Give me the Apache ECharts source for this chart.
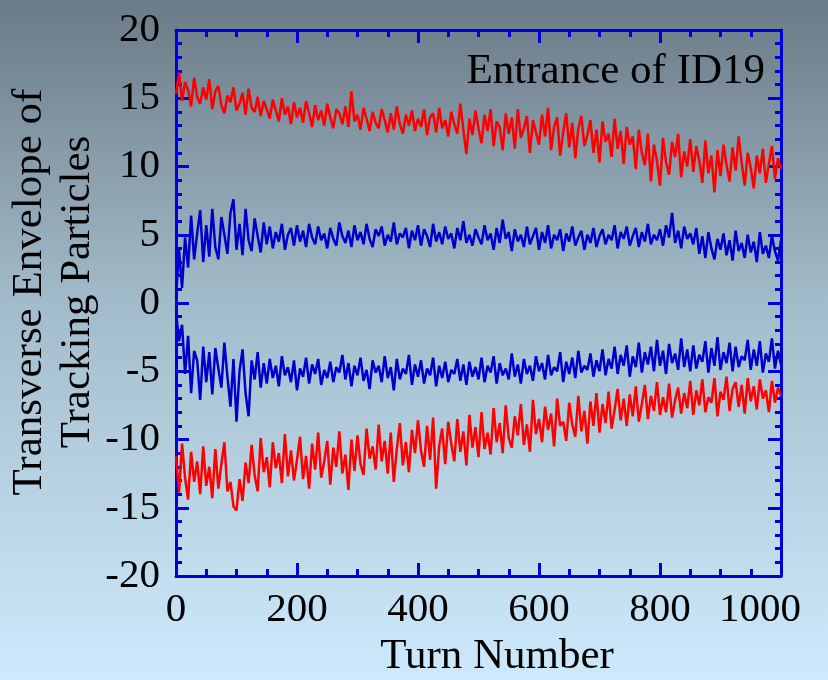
<!DOCTYPE html>
<html>
<head>
<meta charset="utf-8">
<script src="https://cdn.jsdelivr.net/npm/echarts@6/dist/echarts.min.js"></script>
<style>
html,body{margin:0;padding:0;}
#chart{width:828px;height:680px;}
</style>
</head>
<body>
<div id="chart"></div>
<script>
// Turn numbers sampled every 5 turns (0..1000)
const turns = Array.from({length: 201}, (_, i) => i * 5);

// Upper red envelope
const redUpper = [
15.3,16.9,14.8,16.2,15.6,14.4,16.5,15.1,14.6,15.8,14.9,
16.4,14.2,15.5,15.9,14.5,13.9,15.2,14.7,15.8,14.1,
14.6,15.4,13.8,15.7,14.3,14.0,15.1,13.7,14.8,14.2,
13.5,14.9,14.1,13.3,15.0,13.8,14.4,13.1,14.7,13.6,
14.3,13.2,14.8,13.9,12.9,14.5,13.4,14.1,13.0,14.6,
13.6,12.8,14.2,13.9,13.1,14.4,12.9,15.5,13.3,13.8,
12.7,14.3,13.5,12.6,14.0,13.2,12.8,14.2,13.4,12.5,
13.9,12.7,14.4,13.1,12.4,13.8,13.0,14.1,12.6,13.5,
12.9,14.2,12.3,13.6,13.9,12.5,14.3,12.8,13.4,12.2,
14.0,13.1,12.4,14.6,12.7,10.9,13.5,12.3,14.1,12.8,
11.7,13.8,12.6,14.2,11.5,13.3,12.9,11.2,13.9,12.4,
13.6,11.3,14.2,12.1,12.8,13.7,11.0,13.4,12.5,11.6,
13.8,12.2,14.3,11.2,12.9,13.6,10.8,12.5,13.9,11.4,
13.2,10.6,12.8,13.7,11.5,12.3,13.4,11.0,12.7,10.3,
13.3,11.8,12.4,10.7,13.5,11.3,12.6,10.2,12.9,11.6,
12.2,9.8,12.7,11.0,10.1,12.4,8.9,11.6,10.4,8.6,
12.1,10.3,9.4,11.8,10.7,12.4,9.2,11.1,10.0,12.0,
9.6,11.5,10.4,8.8,11.9,9.5,10.8,8.1,11.2,9.3,
11.6,10.1,8.9,11.4,9.7,12.2,10.3,8.6,11.0,9.9,
8.4,10.8,9.5,11.3,8.8,10.2,11.5,9.1,10.6,9.8
];

// Upper blue envelope
const blueUpper = [
0.4,3.9,1.1,4.8,2.6,6.4,3.2,5.1,6.8,3.0,5.7,
3.4,6.9,4.1,3.2,6.3,5.0,3.6,6.6,7.6,3.9,
5.8,3.5,6.9,4.6,3.8,6.2,4.9,3.7,5.9,4.3,
5.6,4.0,5.2,4.5,5.8,3.9,5.0,5.5,4.2,5.7,
4.5,5.3,4.1,5.8,4.8,4.3,5.6,4.6,5.1,4.0,
5.5,4.7,4.2,5.9,4.9,4.4,5.3,4.1,5.7,4.6,
5.2,4.3,5.8,4.7,4.1,5.4,4.9,5.6,4.2,5.0,
4.5,5.9,4.3,5.1,4.8,5.5,4.0,5.3,4.6,5.7,
4.2,5.4,4.9,4.1,5.8,4.5,5.2,4.3,5.6,4.7,
5.1,4.0,5.5,4.6,6.0,4.4,5.0,4.2,5.4,4.8,
4.3,5.7,4.6,5.1,3.9,5.5,4.4,6.1,4.7,5.2,
3.8,5.4,4.5,5.0,4.1,5.6,4.3,4.9,5.5,3.9,
5.2,4.4,5.7,4.0,5.0,4.6,5.4,3.8,5.1,4.5,
5.6,4.2,4.8,5.3,3.9,5.0,4.4,5.5,4.1,4.9,
5.4,4.3,5.0,4.6,5.7,4.0,5.2,4.7,5.6,4.2,
4.9,5.5,4.1,5.2,4.5,5.8,4.3,5.0,4.6,5.4,
4.2,5.7,4.8,6.6,4.4,5.3,4.0,5.6,4.7,5.1,
4.3,5.5,3.6,4.9,3.3,5.2,4.0,3.2,4.7,3.9,
5.1,3.5,4.6,3.1,5.3,3.8,4.4,3.3,5.0,3.7,
4.5,3.0,5.2,3.6,4.2,3.3,4.9,3.8,3.1,4.6
];

// Lower blue envelope
const blueLower = [
-0.6,-2.8,-1.6,-5.2,-2.4,-6.6,-3.5,-4.2,-7.1,-3.2,-5.8,
-3.6,-6.7,-3.3,-4.8,-6.2,-2.9,-5.4,-7.6,-4.1,-8.7,
-5.0,-3.4,-6.6,-8.3,-4.2,-5.6,-3.6,-6.2,-4.4,-5.9,
-4.1,-5.5,-4.6,-6.1,-3.9,-5.3,-4.7,-5.8,-4.2,-6.4,
-4.8,-5.4,-4.0,-5.9,-4.5,-5.2,-4.1,-6.0,-4.9,-5.5,
-4.3,-5.8,-4.7,-5.1,-3.8,-5.6,-4.4,-6.1,-4.6,-5.3,
-4.0,-5.7,-4.9,-6.3,-4.2,-5.1,-4.6,-5.8,-3.9,-5.5,
-4.7,-6.4,-4.1,-5.6,-4.8,-5.2,-3.8,-6.0,-4.5,-5.4,
-4.2,-5.9,-4.8,-5.3,-4.0,-6.1,-4.6,-5.5,-4.3,-5.8,
-4.9,-5.2,-4.1,-5.7,-4.5,-6.0,-4.3,-5.4,-4.7,-5.6,
-4.0,-5.8,-4.6,-5.1,-3.9,-5.9,-4.4,-5.3,-4.8,-5.6,
-3.7,-5.4,-4.5,-5.9,-4.1,-5.2,-4.6,-5.7,-3.9,-5.0,
-4.4,-5.6,-3.8,-5.3,-4.7,-5.0,-3.6,-5.8,-4.3,-5.2,
-4.0,-5.5,-3.5,-5.1,-4.6,-4.9,-3.7,-5.4,-4.2,-5.0,
-3.4,-5.3,-4.1,-4.8,-3.2,-5.2,-3.8,-4.6,-3.1,-5.4,
-3.9,-4.7,-2.9,-5.1,-3.6,-4.5,-3.2,-5.0,-2.7,-4.6,
-3.5,-5.2,-3.0,-4.4,-3.7,-4.9,-2.6,-4.7,-3.4,-5.0,
-3.1,-4.8,-3.8,-4.3,-2.8,-5.1,-3.3,-4.6,-2.5,-4.9,
-3.6,-4.4,-2.9,-5.0,-3.2,-4.7,-3.9,-4.2,-2.7,-4.9,
-3.4,-4.6,-2.8,-5.1,-3.7,-4.3,-2.6,-4.8,-3.5,-4.5
];

// Lower red envelope
const redLower = [
-11.2,-13.9,-10.3,-12.8,-14.4,-10.9,-13.1,-11.6,-14.0,-10.5,-13.4,
-12.0,-14.3,-10.7,-13.6,-11.8,-10.2,-13.8,-13.1,-14.9,-15.2,
-12.9,-14.5,-11.7,-13.2,-10.4,-12.6,-13.8,-9.9,-12.4,-11.3,
-13.5,-10.2,-12.1,-11.0,-13.2,-9.6,-12.7,-10.8,-13.0,-11.5,
-9.8,-12.9,-11.2,-13.6,-10.3,-12.2,-9.5,-12.8,-11.6,-10.1,
-13.3,-10.6,-12.0,-9.4,-12.5,-11.1,-13.7,-10.0,-12.3,-9.7,
-11.8,-12.6,-9.2,-11.4,-10.5,-12.2,-8.9,-11.6,-10.1,-12.5,
-9.5,-13.1,-10.7,-8.8,-11.9,-10.2,-12.4,-9.3,-11.0,-8.6,
-10.8,-12.0,-9.0,-11.5,-8.4,-13.6,-10.5,-9.2,-11.8,-8.7,
-10.3,-11.6,-8.5,-10.9,-9.4,-11.9,-8.2,-10.6,-9.1,-11.3,
-8.0,-10.7,-9.5,-11.1,-7.7,-10.2,-8.8,-11.0,-7.5,-9.9,
-10.6,-8.3,-9.7,-7.4,-10.4,-8.9,-10.9,-7.1,-9.6,-8.5,
-10.2,-7.6,-9.3,-8.1,-10.5,-7.0,-9.0,-8.7,-10.1,-7.3,
-8.9,-9.8,-6.8,-9.4,-7.9,-10.3,-7.2,-9.0,-6.6,-9.5,
-7.4,-8.8,-6.5,-9.2,-7.8,-6.3,-8.6,-7.0,-9.0,-6.7,
-8.3,-6.1,-8.7,-7.4,-6.0,-8.5,-6.8,-7.9,-5.8,-8.2,
-6.9,-8.0,-5.9,-8.4,-7.1,-6.2,-8.1,-6.6,-7.7,-5.7,
-8.2,-6.4,-7.5,-5.6,-8.0,-6.9,-7.3,-5.5,-8.3,-6.5,
-7.1,-5.4,-7.9,-6.3,-5.8,-7.6,-6.0,-8.1,-5.5,-7.2,
-6.1,-7.8,-5.6,-7.0,-6.4,-8.0,-5.7,-7.3,-6.2,-6.8
];

const xTicks = [0, 200, 400, 600, 800, 1000];
const yTicks = [-20, -15, -10, -5, 0, 5, 10, 15, 20];

const AX = '#0000d8';
const FONT = '"Liberation Serif", "Times New Roman", serif';
const pair = arr => turns.map((t, i) => [t, arr[i]]);

const chart = echarts.init(document.getElementById('chart'), null, {renderer: 'canvas'});

const baseX = {
  type: 'value', min: xTicks[0], max: xTicks[xTicks.length - 1], interval: 200,
  axisLine: {show: true, onZero: false, lineStyle: {color: AX, width: 3}},
  axisTick: {show: true, inside: true, length: 13, lineStyle: {color: AX, width: 3}},
  minorTick: {show: true, splitNumber: 4, length: 7, lineStyle: {color: AX, width: 3}},
  splitLine: {show: false},
  minorSplitLine: {show: false}
};
const baseY = {
  type: 'value', min: yTicks[0], max: yTicks[yTicks.length - 1], interval: 5,
  axisLine: {show: true, onZero: false, lineStyle: {color: AX, width: 3}},
  axisTick: {show: true, inside: true, length: 13, lineStyle: {color: AX, width: 3}},
  minorTick: {show: true, splitNumber: 5, length: 6, lineStyle: {color: AX, width: 3}},
  splitLine: {show: false},
  minorSplitLine: {show: false}
};

const lineSeries = (data, color) => ({
  type: 'line', data: pair(data), showSymbol: false, symbol: 'none',
  lineStyle: {color: color, width: 2.5}, itemStyle: {color: color},
  animation: false, silent: true, xAxisIndex: 0, yAxisIndex: 0
});

chart.setOption({
  animation: false,
  backgroundColor: {
    type: 'linear', x: 0, y: 0, x2: 0, y2: 1,
    colorStops: [
      {offset: 0, color: '#6b7a86'},
      {offset: 0.45, color: '#a3bccb'},
      {offset: 1, color: '#cdeafc'}
    ]
  },
  grid: {left: 176, right: 47, top: 30, bottom: 104, containLabel: false},
  xAxis: [
    Object.assign({}, baseX, {
      position: 'bottom',
      axisLabel: {show: true, color: '#000', fontFamily: FONT, fontSize: 41, margin: 14,
        formatter: v => (v === 1000 ? '{e|' + v + '}' : String(v)),
        rich: {e: {color: '#000', fontFamily: FONT, fontSize: 41, padding: [0, 42, 0, 0]}}}
    }),
    Object.assign({}, baseX, {position: 'top', axisLabel: {show: false}})
  ],
  yAxis: [
    Object.assign({}, baseY, {
      position: 'left',
      axisLabel: {show: true, color: '#000', fontFamily: FONT, fontSize: 41, margin: 16,
        formatter: v => String(v)}
    }),
    Object.assign({}, baseY, {position: 'right', axisLabel: {show: false}})
  ],
  graphic: [
    {
      type: 'text', x: 54, y: 292, rotation: Math.PI / 2,
      style: {
        text: 'Transverse Envelope of\nTracking Particles',
        fontFamily: FONT, fontSize: 43, lineHeight: 48, fill: '#000',
        align: 'center', verticalAlign: 'middle'
      }
    },
    {
      type: 'text', x: 765, y: 72,
      style: {
        text: 'Entrance of ID19', fontFamily: FONT, fontSize: 43, fill: '#000',
        align: 'right', verticalAlign: 'middle'
      }
    },
    {
      type: 'text', x: 497, y: 657,
      style: {
        text: 'Turn Number', fontFamily: FONT, fontSize: 43, fill: '#000',
        align: 'center', verticalAlign: 'middle'
      }
    }
  ],
  series: [
    lineSeries(redUpper, '#ff0000'),
    lineSeries(blueUpper, '#0000cc'),
    lineSeries(blueLower, '#0000cc'),
    lineSeries(redLower, '#ff0000')
  ]
});
</script>
</body>
</html>
